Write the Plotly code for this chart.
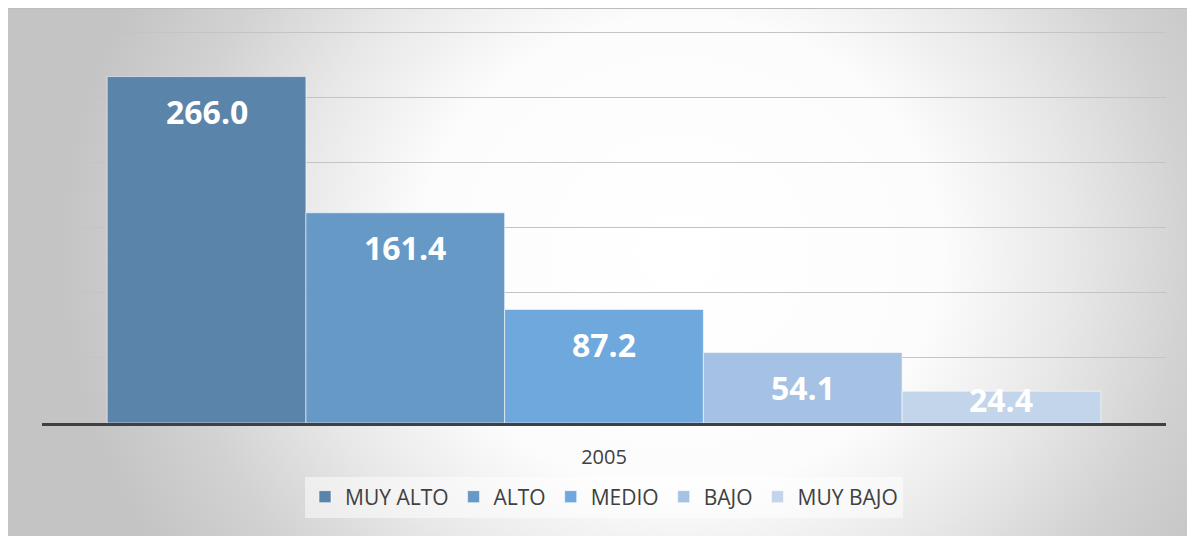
import base64
import plotly.graph_objects as go

# ---- data ----
categories = ["2005"]
series_names = ["MUY ALTO", "ALTO", "MEDIO", "BAJO", "MUY BAJO"]
series_values = [266.0, 161.4, 87.2, 54.1, 24.4]
series_colors = ["#5b84aa", "#6799c6", "#6fa8dc", "#a5c2e4", "#c2d5eb"]
y_ticks = [0, 50, 100, 150, 200, 250, 300]

# ---- layout geometry (page has an 8px body margin) ----
OFF = 8
W, H = 1195 - OFF, 536 - OFF
ML, MT = 42 - OFF, 31 - OFF
PW, PH = 1124, 392
MR = W - ML - PW
MB = H - MT - PH
BARGAP = 0.116
YMAX = 301

# radial gradient background (style only)
svg = f"""<svg xmlns='http://www.w3.org/2000/svg' width='{W}' height='{H}' viewBox='0 0 {W} {H}'>
<defs><radialGradient id='g' gradientUnits='userSpaceOnUse' cx='0' cy='0' r='1'
 gradientTransform='translate(672 245) scale(620 560)'>
<stop offset='0' stop-color='#ffffff'/>
<stop offset='0.42' stop-color='#fcfcfc'/>
<stop offset='0.63' stop-color='#e8e8e8'/>
<stop offset='0.82' stop-color='#d2d2d2'/>
<stop offset='1' stop-color='#c4c4c4'/>
</radialGradient></defs>
<rect x='0' y='0' width='{W}' height='{H}' fill='url(#g)'/>
<line x1='0' y1='0.5' x2='{W}' y2='0.5' stroke='#bdbdbd' stroke-width='1'/>
</svg>"""
src = "data:image/svg+xml;base64," + base64.b64encode(svg.encode()).decode()

fig = go.Figure()
for name, val, col in zip(series_names, series_values, series_colors):
    fig.add_trace(go.Bar(
        x=categories, y=[val], name=name,
        marker=dict(color=col, line=dict(color="rgba(255,255,255,0.55)", width=1)),
        hoverinfo="skip",
    ))

# data labels (inside end, like the original)
n = len(series_values)
group_w = 1 - BARGAP
bar_w = group_w / n
px_per_unit = PH / YMAX
annotations = []
for i, val in enumerate(series_values):
    xc = -group_w / 2 + (i + 0.5) * bar_w
    h_px = val * px_per_unit
    shift = -min(35, h_px - 23)
    annotations.append(dict(
        x=xc, y=val, xref="x", yref="y", text=f"{val:.1f}", showarrow=False,
        yanchor="middle", yshift=shift,
        font=dict(family="Open Sans", size=32, color="white", weight="bold"),
    ))

legend_center_y = 497 - OFF
fig.update_layout(
    width=W, height=H,
    margin=dict(l=ML, r=MR, t=MT, b=MB, pad=0),
    paper_bgcolor="white",
    plot_bgcolor="rgba(0,0,0,0)",
    barmode="group", bargap=BARGAP, bargroupgap=0,
    showlegend=True,
    legend=dict(
        orientation="h", x=0.5, xanchor="center",
        y=-(legend_center_y - (MT + PH)) / PH, yanchor="middle",
        font=dict(family="Open Sans", size=21, color="#404040"),
        bgcolor="rgba(255,255,255,0.5)", borderwidth=0,
        itemclick=False, itemdoubleclick=False,
    ),
    xaxis=dict(
        type="category", range=[-0.5, 0.5],
        showline=True, linecolor="#404040", linewidth=3,
        ticks="outside", ticklen=14, tickcolor="rgba(0,0,0,0)",
        tickfont=dict(family="Open Sans", size=20, color="#404040"),
        showgrid=False, fixedrange=True,
    ),
    yaxis=dict(
        range=[0, YMAX], tickvals=y_ticks, showticklabels=False,
        showgrid=True, gridcolor="#c4c4c4", gridwidth=1,
        zeroline=False, showline=False, ticks="", fixedrange=True,
    ),
    images=[dict(
        source=src, xref="paper", yref="paper",
        x=-ML / PW, y=(MT + PH) / PH,
        sizex=W / PW, sizey=H / PH,
        xanchor="left", yanchor="top", sizing="stretch", layer="below",
    )],
    annotations=annotations,
)

fig.write_html("out.html", config={"displayModeBar": False})
